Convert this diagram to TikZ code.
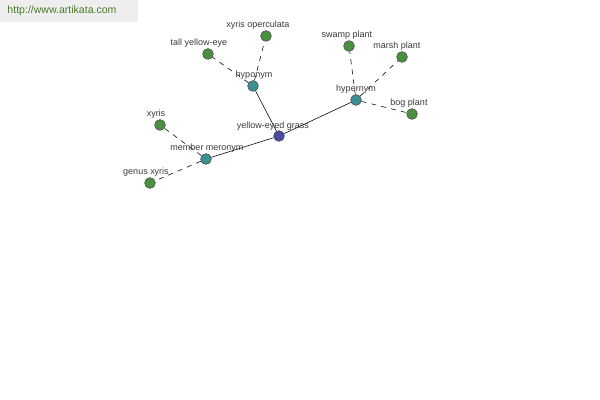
\documentclass[tikz,border=0pt]{standalone}
\usepackage{fontspec}
\setmainfont{Liberation Sans}
\usepackage{xcolor}
\definecolor{hubnode}{HTML}{4A4AA0}
\definecolor{relnode}{HTML}{3A9090}
\definecolor{leafnode}{HTML}{4A9040}
\definecolor{labeltext}{HTML}{3A3A3A}
\definecolor{banner}{HTML}{EEEEEE}
\definecolor{bannertext}{HTML}{4A7A2A}
\usetikzlibrary{positioning}
\tikzset{
  dot/.style={circle, draw=black!70, line width=0.4pt, inner sep=0pt, minimum size=0.27cm},
  hub/.style={dot, fill=hubnode},
  rel/.style={dot, fill=relnode},
  leaf/.style={dot, fill=leafnode},
  tag/.style={font=\fontsize{6.4}{7.5}\selectfont, text=labeltext, inner sep=1pt},
  link/.style={black, line width=0.4pt},
  sublink/.style={link, dash pattern=on 3.6pt off 3.6pt}
}

\begin{document}
\begin{tikzpicture}[x=0.025cm, y=-0.025cm]
  \useasboundingbox (0,0) rectangle (600,400);
  % banner
  \fill[banner] (0,0) rectangle (138,22);
  \node[font=\fontsize{7.5}{9}\selectfont, text=bannertext] (site) at (62,11) {http://www.artikata.com};

  % nodes
  \node[hub]  (grass)    at (279,136) {};
  \node[rel]  (hypo)     at (253,86)  {};
  \node[rel]  (hyper)    at (356,100) {};
  \node[rel]  (meronym)  at (206,159) {};
  \node[leaf] (opercul)  at (266,36)  {};
  \node[leaf] (tallyel)  at (208,54)  {};
  \node[leaf] (swamp)    at (349,46)  {};
  \node[leaf] (marsh)    at (402,57)  {};
  \node[leaf] (bog)      at (412,114) {};
  \node[leaf] (xyris)    at (160,125) {};
  \node[leaf] (genus)    at (150,183) {};

  % connectors
  \draw[link] (grass) -- (hypo);
  \draw[link] (grass) -- (hyper);
  \draw[link] (grass) -- (meronym);
  \draw[sublink] (hypo) -- (opercul);
  \draw[sublink] (hypo) -- (tallyel);
  \draw[sublink] (hyper) -- (swamp);
  \draw[sublink] (hyper) -- (marsh);
  \draw[sublink] (hyper) -- (bog);
  \draw[sublink] (meronym) -- (xyris);
  \draw[sublink] (meronym) -- (genus);

  % labels
  \node[tag] at (273,126) {yellow-eyed grass};
  \node[tag] at (254,75)  {hyponym};
  \node[tag] at (356,89)  {hypernym};
  \node[tag] at (207,148) {member meronym};
  \node[tag] at (258,25)  {xyris operculata};
  \node[tag] at (199,43)  {tall yellow-eye};
  \node[tag] at (347,35)  {swamp plant};
  \node[tag] at (397,46)  {marsh plant};
  \node[tag] at (409,103) {bog plant};
  \node[tag] at (156,114) {xyris};
  \node[tag] at (146,172) {genus xyris};
\end{tikzpicture}
\end{document}
